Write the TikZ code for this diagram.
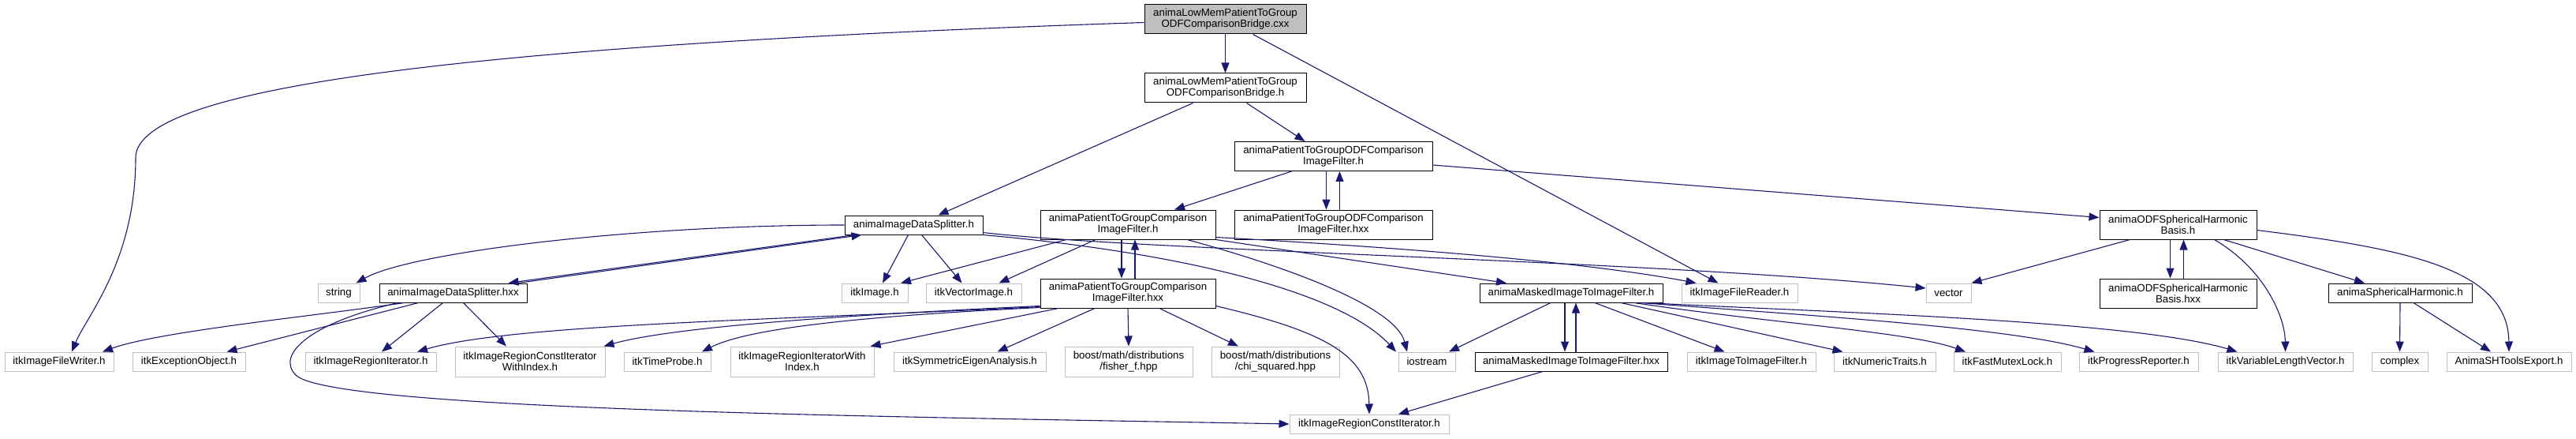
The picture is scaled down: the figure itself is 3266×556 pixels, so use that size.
\documentclass[tikz,border=0pt]{standalone}
\usepackage{fontspec}
\setmainfont{Liberation Sans}
\usetikzlibrary{arrows.meta}
\definecolor{edgeblue}{HTML}{191970}
\definecolor{boxgrey}{HTML}{BFBFBF}

\begin{document}
\begin{tikzpicture}[x=1pt, y=-1pt,
    hdr/.style={rectangle, draw=black, fill=white, line width=1pt, inner xsep=1pt, inner ysep=1pt,
                minimum height=24pt, align=center, font=\fontsize{13.3}{14}\selectfont},
    hdrtwo/.style={hdr, minimum height=37pt},
    ext/.style={hdr, draw=boxgrey},
    exttwo/.style={ext, minimum height=38pt},
    src/.style={hdrtwo, fill=boxgrey},
    incl/.style={draw=edgeblue, line width=1.1pt, -{Triangle[length=13pt, width=10pt]}}]
    \useasboundingbox (0,0) rectangle (3266,556);

    % Nodes
    \node (cxx) [src, minimum width=205pt] at (1553.5,24.5) {animaLowMemPatientToGroup\\ODFComparisonBridge.cxx};
    \node (bridgeh) [hdrtwo, minimum width=205pt] at (1553.5,111.5) {animaLowMemPatientToGroup\\ODFComparisonBridge.h};
    \node (odffilterh) [hdrtwo, minimum width=251pt] at (1690.5,198) {animaPatientToGroupODFComparison\\ImageFilter.h};

    \node (splitterh) [hdr, minimum width=175pt] at (1158.5,285) {animaImageDataSplitter.h};
    \node (compfilterh) [hdrtwo, minimum width=222pt] at (1430,284.5) {animaPatientToGroupComparison\\ImageFilter.h};
    \node (odffilterhxx) [hdrtwo, minimum width=251pt] at (1690.5,284.5) {animaPatientToGroupODFComparison\\ImageFilter.hxx};
    \node (basish) [hdrtwo, minimum width=199pt] at (2761.5,284.5) {animaODFSphericalHarmonic\\Basis.h};

    \node (string) [ext, minimum width=53pt] at (429.5,371) {string};
    \node (splitterhxx) [hdr, minimum width=187pt] at (574.5,371) {animaImageDataSplitter.hxx};
    \node (itkimage) [ext, minimum width=84pt] at (1109,371) {itkImage.h};
    \node (itkvectorimage) [ext, minimum width=121pt] at (1234.5,371) {itkVectorImage.h};
    \node (compfilterhxx) [hdrtwo, minimum width=222pt] at (1430,371.5) {animaPatientToGroupComparison\\ImageFilter.hxx};
    \node (maskedh) [hdr, minimum width=232pt] at (1992,371) {animaMaskedImageToImageFilter.h};
    \node (filereader) [ext, minimum width=147pt] at (2205.5,371) {itkImageFileReader.h};
    \node (vector) [ext, minimum width=57pt] at (2470.5,371) {vector};
    \node (basishxx) [hdrtwo, minimum width=199pt] at (2761.5,371.5) {animaODFSphericalHarmonic\\Basis.hxx};
    \node (sph) [hdr, minimum width=182pt] at (3043,371) {animaSphericalHarmonic.h};

    \node (filewriter) [ext, minimum width=138pt] at (75,458) {itkImageFileWriter.h};
    \node (exception) [ext, minimum width=143pt] at (239.5,458) {itkExceptionObject.h};
    \node (regioniter) [ext, minimum width=166pt] at (470,458) {itkImageRegionIterator.h};
    \node (constiterwi) [exttwo, minimum width=190pt] at (672,458) {itkImageRegionConstIterator\\WithIndex.h};
    \node (timeprobe) [ext, minimum width=110pt] at (846,458) {itkTimeProbe.h};
    \node (iterwi) [exttwo, minimum width=182pt] at (1017,458) {itkImageRegionIteratorWith\\Index.h};
    \node (eigen) [ext, minimum width=193pt] at (1229.5,458) {itkSymmetricEigenAnalysis.h};
    \node (fisher) [exttwo, minimum width=162pt] at (1431,458) {boost/math/distributions\\/fisher\_f.hpp};
    \node (chi) [exttwo, minimum width=162pt] at (1617,458) {boost/math/distributions\\/chi\_squared.hpp};
    \node (iostream) [ext, minimum width=72pt] at (1809,458) {iostream};
    \node (maskedhxx) [hdr, minimum width=244pt] at (1992,458) {animaMaskedImageToImageFilter.hxx};
    \node (imgtoimg) [ext, minimum width=163pt] at (2220.5,458) {itkImageToImageFilter.h};
    \node (numeric) [ext, minimum width=129pt] at (2389.5,458) {itkNumericTraits.h};
    \node (mutex) [ext, minimum width=136pt] at (2545,458) {itkFastMutexLock.h};
    \node (progress) [ext, minimum width=151pt] at (2711.5,458) {itkProgressReporter.h};
    \node (varlen) [ext, minimum width=171pt] at (2897.5,458) {itkVariableLengthVector.h};
    \node (complex) [ext, minimum width=71pt] at (3042.5,458) {complex};
    \node (shtools) [ext, minimum width=158pt] at (3181,458) {AnimaSHToolsExport.h};

    \node (constiter) [ext, minimum width=202pt] at (1736,537) {itkImageRegionConstIterator.h};

    % Connections
    \draw [incl] ([yshift=-4]cxx.west) .. controls (500,60) and (172,120) .. (172,200)
        .. controls (172,330) and (110,400) .. ([xshift=16]filewriter.north);
    \draw [incl] (cxx.south) -- (bridgeh.north);
    \draw [incl] ([xshift=35]cxx.south) -- ([xshift=-27]filereader.north);

    \draw [incl] ([xshift=-41]bridgeh.south) -- ([xshift=31]splitterh.north);
    \draw [incl] ([xshift=27]bridgeh.south) -- ([xshift=-36]odffilterh.north);

    \draw [incl] ([xshift=-53]odffilterh.south) -- ([xshift=59]compfilterh.north);
    \draw [incl] ([xshift=-9]odffilterh.south) -- ([xshift=-9]odffilterhxx.north);
    \draw [incl] ([xshift=8]odffilterhxx.north) -- ([xshift=8]odffilterh.south);
    \draw [incl] ([yshift=-11]odffilterh.east) -- ([yshift=9]basish.west);

    \draw [incl] ([xshift=-8]compfilterh.south) -- ([xshift=-8]compfilterhxx.north);
    \draw [incl] ([xshift=9]compfilterhxx.north) -- ([xshift=9]compfilterh.south);
    \draw [incl] ([xshift=-78]compfilterh.south) -- ([xshift=33]itkimage.north);
    \draw [incl] ([xshift=-41]compfilterh.south) -- ([xshift=32]itkvectorimage.north);
    \draw [incl] ([xshift=75]compfilterh.south) .. controls (1640,340) and (1770,390) .. ([xshift=-25]iostream.north);
    \draw [incl] (compfilterh.south east) -- ([xshift=-82]maskedh.north);
    \draw [incl] ([yshift=3]compfilterh.south east) .. controls (1750,312) and (2000,330) .. ([xshift=-55]filereader.north);

    \draw [incl] (splitterh.west) .. controls (800,285) and (520,320) .. ([xshift=22]string.north);
    \draw [incl] ([xshift=-75]splitterh.south) -- ([xshift=70]splitterhxx.north);
    \draw [incl] ([xshift=82]splitterhxx.north) -- ([xshift=-66]splitterh.south);
    \draw [incl] ([xshift=-7]splitterh.south) -- ([xshift=10]itkimage.north);
    \draw [incl] ([xshift=10]splitterh.south) -- ([xshift=-15]itkvectorimage.north);
    \draw [incl] (splitterh.south east) .. controls (1500,320) and (1700,370) .. ([xshift=-39]iostream.north);
    \draw [incl] ([yshift=3]splitterh.south east) .. controls (1450,318) and (2100,330) .. ([yshift=6]vector.west);

    \draw [incl] ([xshift=-62]splitterhxx.south) .. controls (400,400) and (200,420) .. ([xshift=55]filewriter.north);
    \draw [incl] ([xshift=-44]splitterhxx.south) -- ([xshift=48]exception.north);
    \draw [incl] ([xshift=-13]splitterhxx.south) -- ([xshift=14]regioniter.north);
    \draw [incl] ([xshift=13]splitterhxx.south) -- ([xshift=-30]constiterwi.north);
    \draw [incl] ([xshift=-70]splitterhxx.south) .. controls (390,410) and (350,450) .. (375,475)
        .. controls (420,520) and (1150,528) .. (constiter.west);

    \draw [incl] ([yshift=2]compfilterhxx.south west) .. controls (1000,405) and (650,410) .. ([xshift=59]regioniter.north);
    \draw [incl] ([yshift=3]compfilterhxx.south west) .. controls (1050,400) and (850,415) .. ([xshift=-2]constiterwi.north east);
    \draw [incl] ([yshift=1]compfilterhxx.south west) .. controls (1100,400) and (950,415) .. ([xshift=44]timeprobe.north);
    \draw [incl] ([xshift=-88]compfilterhxx.south) -- ([xshift=-5]iterwi.north east);
    \draw [incl] ([xshift=-42]compfilterhxx.south) -- ([xshift=35]eigen.north);
    \draw [incl] (compfilterhxx.south) -- (fisher.north);
    \draw [incl] ([xshift=40]compfilterhxx.south) -- ([xshift=-47]chi.north);
    \draw [incl] ([yshift=3]compfilterhxx.south east) .. controls (1680,420) and (1735,450) .. (constiter.north);

    \draw [incl] ([xshift=-26]maskedh.south) -- ([xshift=28]iostream.north);
    \draw [incl] ([xshift=-8]maskedh.south) -- ([xshift=-8]maskedhxx.north);
    \draw [incl] ([xshift=6]maskedhxx.north) -- ([xshift=6]maskedh.south);
    \draw [incl] ([xshift=30]maskedh.south) -- ([xshift=-34]imgtoimg.north);
    \draw [incl] ([xshift=63]maskedh.south) -- ([xshift=-53]numeric.north);
    \draw [incl] ([xshift=80]maskedh.south) .. controls (2250,410) and (2420,420) .. ([xshift=-53]mutex.north);
    \draw [incl] ([xshift=88]maskedh.south) .. controls (2300,400) and (2550,415) .. ([xshift=-56]progress.north);
    \draw [incl] ([xshift=95]maskedh.south) .. controls (2300,395) and (2700,405) .. ([xshift=-61]varlen.north);

    \draw [incl] ([xshift=-36]maskedhxx.south) -- ([xshift=37]constiter.north);

    \draw [incl] ([xshift=-61]basish.south) -- (vector.north east);
    \draw [incl] ([xshift=-10]basish.south) -- ([xshift=-10]basishxx.north);
    \draw [incl] ([xshift=7]basishxx.north) -- ([xshift=7]basish.south);
    \draw [incl] ([xshift=46]basish.south) .. controls (2870,340) and (2897,400) .. (varlen.north);
    \draw [incl] ([xshift=58]basish.south) -- ([xshift=-45]sph.north);
    \draw [incl] ([yshift=-7]basish.east) .. controls (3050,315) and (3180,340) .. (shtools.north);

    \draw [incl] (sph.south) -- (complex.north);
    \draw [incl] ([xshift=17]sph.south) -- ([xshift=-23]shtools.north);
\end{tikzpicture}
\end{document}
